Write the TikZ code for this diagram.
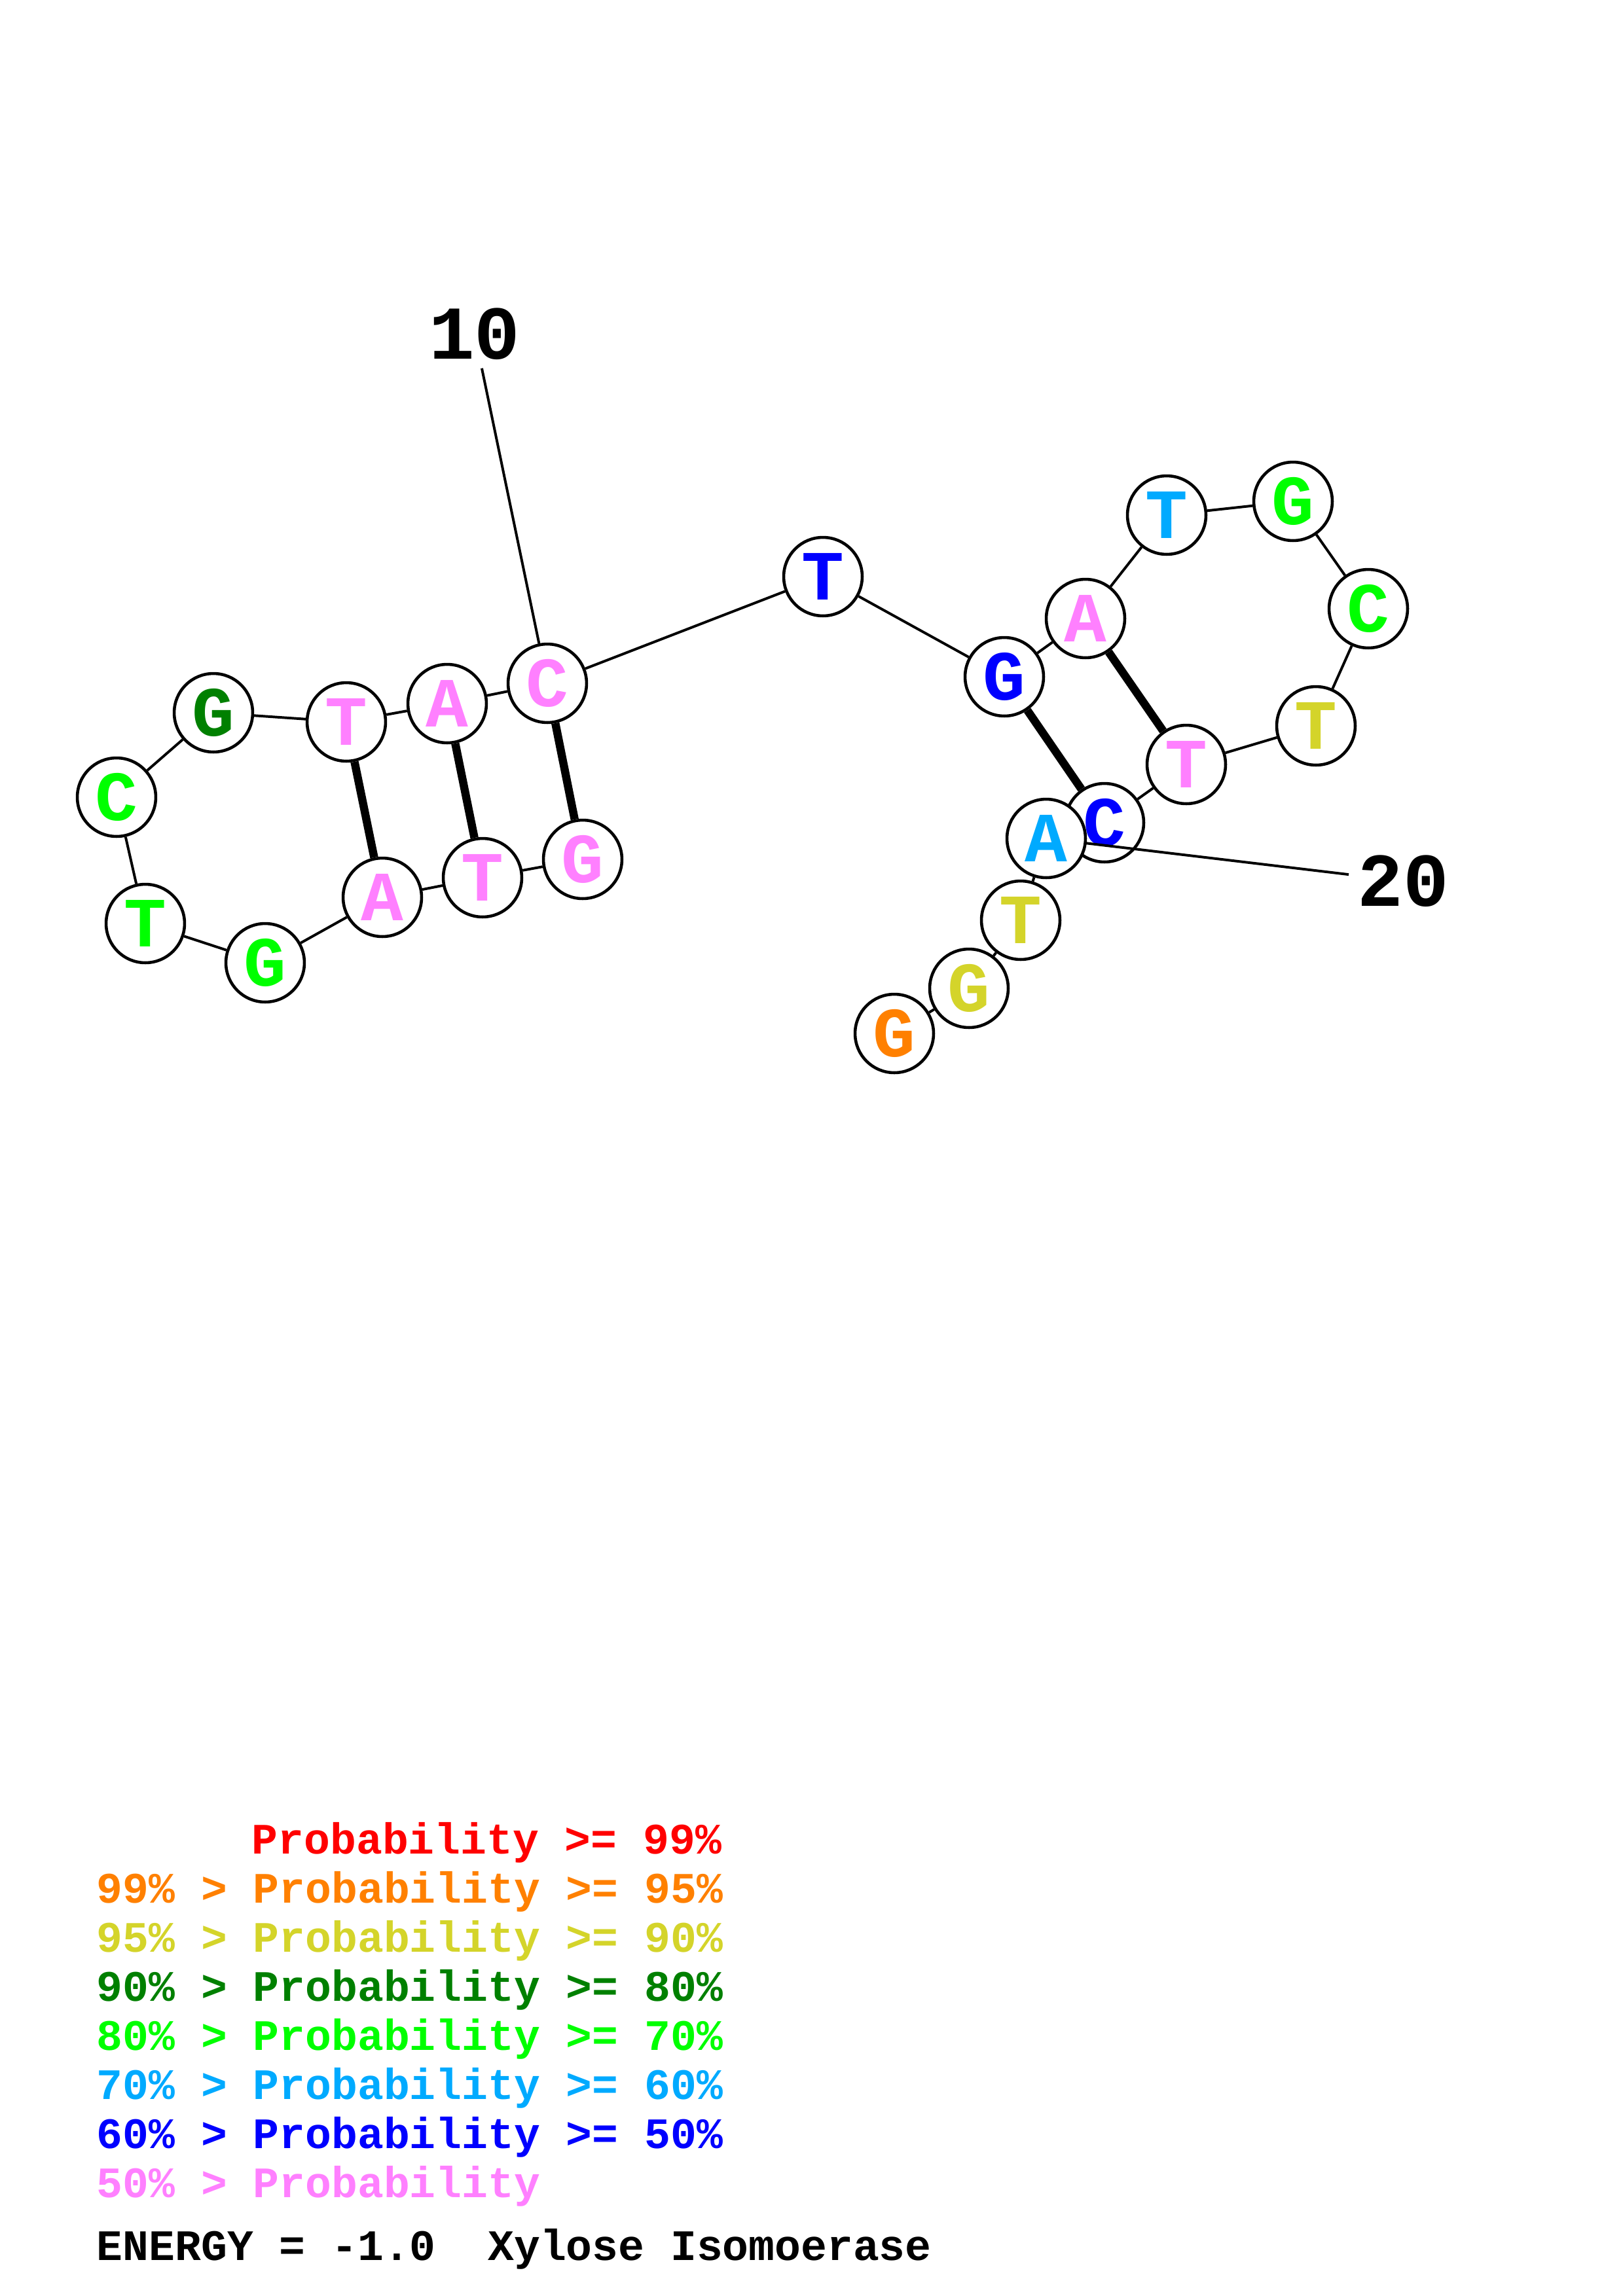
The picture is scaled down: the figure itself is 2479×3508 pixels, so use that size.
\documentclass[tikz,border=0pt]{standalone}
\usepackage{fontspec}
\newfontfamily\cour{Liberation Mono}
\usetikzlibrary{backgrounds}
\definecolor{cRed}{HTML}{FF0000}
\definecolor{cOrange}{HTML}{FF8000}
\definecolor{cYellow}{HTML}{D4D42A}
\definecolor{cDGreen}{HTML}{008000}
\definecolor{cGreen}{HTML}{00FF00}
\definecolor{cLBlue}{HTML}{00AAFF}
\definecolor{cBlue}{HTML}{0000FF}
\definecolor{cPink}{HTML}{FF80FF}
\begin{document}
\begin{tikzpicture}[x=0.0847mm,y=-0.0847mm,
  nt/.style={circle, draw=black, line width=1.1pt, fill=white, minimum size=28.9pt, inner sep=0pt,
    font=\cour\bfseries\fontsize{26}{26}\selectfont},
  bb/.style={line width=0.95pt},
  bp/.style={line width=3pt},
  lab/.style={inner sep=3pt, font=\cour\bfseries\fontsize{28}{28}\selectfont},
  leg/.style={anchor=base west, inner sep=0pt, font=\cour\bfseries\fontsize{16}{18}\selectfont}]
\begin{scope}[on background layer]
\fill[white] (0,0) rectangle (2479,3508);
\end{scope}
\useasboundingbox (0,0) rectangle (2479,3508);
% nucleotides
\node[nt, text=cPink]   (n1)  at (890,1313) {G};
\node[nt, text=cPink]   (n2)  at (737,1341) {T};
\node[nt, text=cPink]   (n3)  at (584,1371) {A};
\node[nt, text=cGreen]  (n4)  at (405,1471) {G};
\node[nt, text=cGreen]  (n5)  at (222,1411) {T};
\node[nt, text=cGreen]  (n6)  at (178,1218) {C};
\node[nt, text=cDGreen] (n7)  at (326,1089) {G};
\node[nt, text=cPink]   (n8)  at (529,1103) {T};
\node[nt, text=cPink]   (n9)  at (683,1075) {A};
\node[nt, text=cPink]   (n10) at (836,1044) {C};
\node[nt, text=cBlue]   (n11) at (1257,881) {T};
\node[nt, text=cBlue]   (n12) at (1534,1034) {G};
\node[nt, text=cPink]   (n13) at (1658,945) {A};
\node[nt, text=cLBlue]  (n14) at (1782,787) {T};
\node[nt, text=cGreen]  (n15) at (1975,766) {G};
\node[nt, text=cGreen]  (n16) at (2090,930) {C};
\node[nt, text=cYellow] (n17) at (2010,1109) {T};
\node[nt, text=cPink]   (n18) at (1812,1168) {T};
\node[nt, text=cBlue]   (n19) at (1687,1257) {C};
\node[lab] (lab10) at (725,510) {10};
\node[lab] (lab20) at (2143,1346) {20};
\draw[bb] (lab20) -- (1598,1281);
\node[nt, text=cLBlue]  (n20) at (1598,1281) {A};
\node[nt, text=cYellow] (n21) at (1559,1406) {T};
\node[nt, text=cYellow] (n22) at (1480,1510) {G};
\node[nt, text=cOrange] (n23) at (1366,1579) {G};
\begin{scope}[on background layer]
\foreach \a/\b in {1/2,2/3,3/4,4/5,5/6,6/7,7/8,8/9,9/10,10/11,11/12,12/13,13/14,14/15,15/16,16/17,17/18,18/19,19/20,20/21,21/22,22/23}
  \draw[bb] (n\a) -- (n\b);
\foreach \a/\b in {1/10,2/9,3/8,12/19,13/18}
  \draw[bp] (n\a) -- (n\b);
\draw[bb] (lab10) -- (n10);
\end{scope}
% legend
\node[leg, text=cRed]    (l1) at (384,2832) {Probability >= 99\%};
\node[leg, text=cOrange] (l2) at (147,2907) {99\% > Probability >= 95\%};
\node[leg, text=cYellow] (l3) at (147,2982) {95\% > Probability >= 90\%};
\node[leg, text=cDGreen] (l4) at (147,3057) {90\% > Probability >= 80\%};
\node[leg, text=cGreen]  (l5) at (147,3132) {80\% > Probability >= 70\%};
\node[leg, text=cLBlue]  (l6) at (147,3207) {70\% > Probability >= 60\%};
\node[leg, text=cBlue]   (l7) at (147,3282) {60\% > Probability >= 50\%};
\node[leg, text=cPink]   (l8) at (147,3357) {50\% > Probability};
\node[leg, text=black]   (l9) at (147,3453) {ENERGY = -1.0\ \ Xylose Isomoerase};
\end{tikzpicture}
\end{document}
